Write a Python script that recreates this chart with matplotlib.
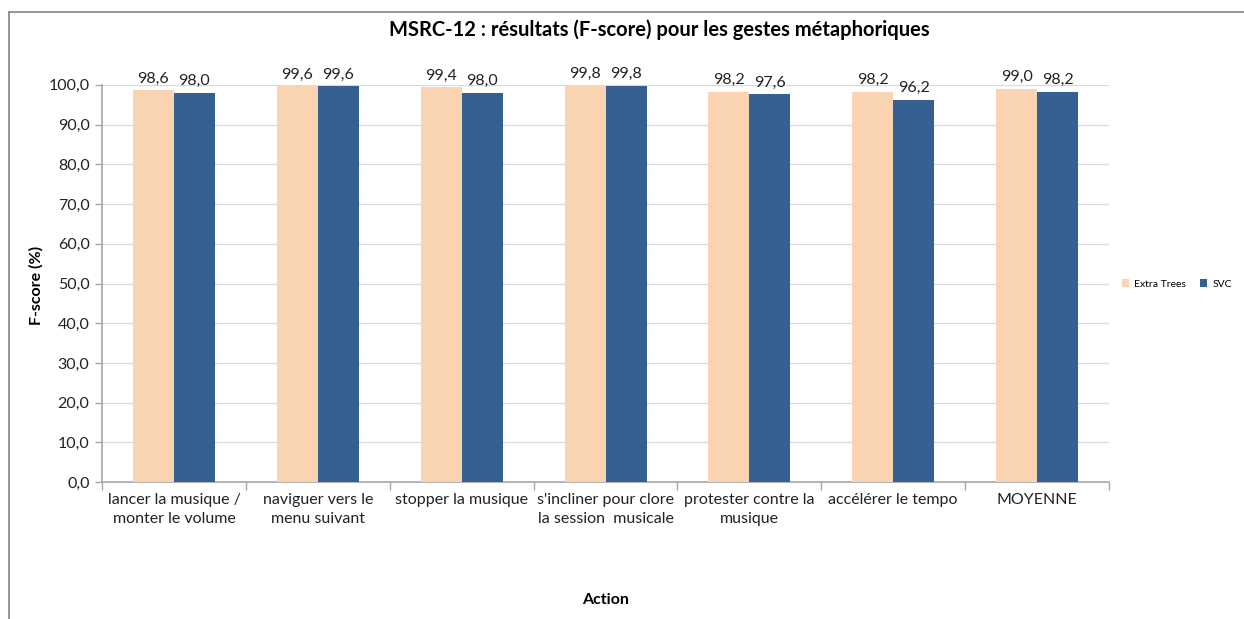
import matplotlib
matplotlib.use("Agg")
import matplotlib.pyplot as plt
from matplotlib.lines import Line2D
import numpy as np

plt.rcParams["font.family"] = ["Lato", "DejaVu Sans"]

# ── data ──────────────────────────────────────────────────────────────────
actions = ["lancer la musique /\nmonter le volume",
           "naviguer vers le\nmenu suivant",
           "stopper la musique",
           "s'incliner pour clore\nla session  musicale",
           "protester contre la\nmusique",
           "accélérer le tempo",
           "MOYENNE"]
extra_trees = [98.6, 99.6, 99.4, 99.8, 98.2, 98.2, 99.0]
svc = [98.0, 99.6, 98.0, 99.8, 97.6, 96.2, 98.2]
series_names = ["Extra Trees", "SVC"]
yticks = np.arange(0, 101, 10)

C_PEACH = "#FAD3B3"
C_BLUE = "#366092"
GRID = "#D9D9D9"
AXIS = "#A6A6A6"


def fr(v):
    return f"{v:.1f}".replace(".", ",")


fig = plt.figure(figsize=(12.44, 6.19), dpi=100)
fig.patch.set_facecolor("white")
ax = fig.add_axes([0.082, 0.221, 0.8095, 0.642])

x = np.arange(len(actions))
w = 0.285
b1 = ax.bar(x - w / 2, extra_trees, w, color=C_PEACH, label=series_names[0], zorder=3)
b2 = ax.bar(x + w / 2, svc, w, color=C_BLUE, label=series_names[1], zorder=3)

for bars, vals in ((b1, extra_trees), (b2, svc)):
    for r, v in zip(bars, vals):
        ax.text(r.get_x() + r.get_width() / 2, v + 1.2, fr(v),
                ha="center", va="bottom", fontsize=11.5, color="#222222")

ax.set_xlim(-0.5, len(actions) - 0.5)
ax.set_ylim(0, 100)
ax.set_yticks(yticks)
ax.set_yticklabels([fr(v) for v in yticks], fontsize=11.5, color="#222222")
ax.yaxis.grid(True, color=GRID, linewidth=0.9, zorder=0)
ax.set_axisbelow(True)

ax.set_xticks(x)
ax.set_xticklabels(actions, fontsize=11.5, color="#222222", linespacing=1.45)
ax.tick_params(axis="x", length=0, pad=8)
ax.set_xticks(np.arange(-0.5, len(actions)), minor=True)
ax.tick_params(axis="x", which="minor", length=6, color=AXIS, width=1)
ax.tick_params(axis="y", length=5, color=AXIS, width=1, pad=4)

for s in ("top", "right"):
    ax.spines[s].set_visible(False)
for s in ("left", "bottom"):
    ax.spines[s].set_color(AXIS)
    ax.spines[s].set_linewidth(1.2)

fig.text(36 / 1244, 1 - 285 / 619, "F-score (%)", rotation=90, ha="center",
         va="center", fontsize=11.5, fontweight="bold")
fig.text(0.487, 0.03, "Action", ha="center", va="center",
         fontsize=11.5, fontweight="bold")
fig.text(0.530, 0.952, "MSRC-12 : résultats (F-score) pour les gestes métaphoriques",
         ha="center", va="center", fontsize=14.5, fontweight="bold")

fig.legend(loc="center left", bbox_to_anchor=(1122 / 1244, 1 - 284 / 619),
           frameon=False, fontsize=7.5, ncol=2, handlelength=0.7,
           handleheight=0.7, handletextpad=0.5, columnspacing=1.3,
           borderaxespad=0, borderpad=0)

# chart frame
fig.add_artist(Line2D([9 / 1244, 9 / 1244], [0, 1 - 12 / 619],
                      transform=fig.transFigure, color="#8C8C8C", linewidth=1.3))
fig.add_artist(Line2D([9 / 1244, 1], [1 - 12 / 619, 1 - 12 / 619],
                      transform=fig.transFigure, color="#8C8C8C", linewidth=1.3))

fig.savefig("out.png", dpi=100)
